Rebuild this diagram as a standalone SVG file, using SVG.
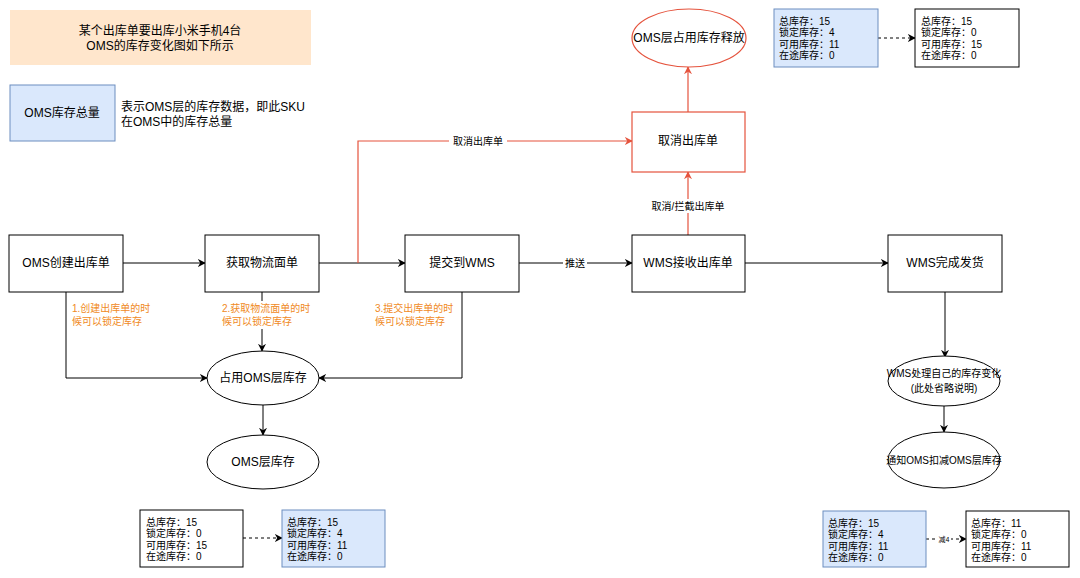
<svg xmlns="http://www.w3.org/2000/svg" width="1080" height="578" viewBox="0 0 1080 578">
<defs>
<style>
text{font-family:"Liberation Sans","Noto Sans CJK SC",sans-serif;fill:#000;}
.n{font-size:12px;text-anchor:middle;dominant-baseline:central;}
.s{font-size:10px;}
.o{font-size:10px;fill:#f08a24;}
.box{fill:#fff;stroke:#000;stroke-width:1;}
.blue{fill:#dae8fc;stroke:#6c8ebf;stroke-width:1;}
.red{fill:#fff;stroke:#e5533d;stroke-width:1.2;}
.ln{fill:none;stroke:#000;stroke-width:1;marker-end:url(#a);}
.rl{fill:none;stroke:#e5533d;stroke-width:1.2;marker-end:url(#ar);}
.dl{fill:none;stroke:#000;stroke-width:1;stroke-dasharray:3 3;marker-end:url(#a);}
</style>
<marker id="a" viewBox="0 0 10 10" refX="9" refY="5" markerWidth="8" markerHeight="8" orient="auto" markerUnits="userSpaceOnUse"><path d="M0,0 L10,5 L0,10 L3,5 z" fill="#000"/></marker>
<marker id="ar" viewBox="0 0 10 10" refX="9" refY="5" markerWidth="8" markerHeight="8" orient="auto" markerUnits="userSpaceOnUse"><path d="M0,0 L10,5 L0,10 L3,5 z" fill="#e5533d"/></marker>
</defs>

<g id="connectors">
<path class="ln" d="M123,263 L205,263"/>
<path class="ln" d="M319,263 L405,263"/>
<path class="ln" d="M519,263 L632,263"/>
<path class="ln" d="M745,263 L888,263"/>
<path class="rl" d="M358,263 L358,141 L632,141"/>
<path class="rl" d="M688,235 L688,172"/>
<path class="rl" d="M688,112 L688,67"/>
<path class="ln" d="M66,291 L66,378 L207,378"/>
<path class="ln" d="M262,291 L262,351"/>
<path class="ln" d="M462,291 L462,378 L319,378"/>
<path class="ln" d="M263,405 L263,435"/>
<path class="ln" d="M945,292 L945,357"/>
<path class="ln" d="M944,406 L944,432"/>
<path class="dl" d="M878,38 L915,38"/>
<path class="dl" d="M243,538 L282,538"/>
<path class="dl" d="M926,539 L966,539"/>
<rect x="449" y="134" width="58" height="14" fill="#fff"/>
<text class="n" x="478" y="141" style="font-size:10px">取消出库单</text>
<rect x="648" y="199" width="80" height="14" fill="#fff"/>
<text class="n" x="688" y="206" style="font-size:10px">取消/拦截出库单</text>
<rect x="563" y="256" width="24" height="14" fill="#fff"/>
<text class="n" x="575" y="263" style="font-size:10px">推送</text>
<rect x="937" y="534" width="14" height="10" fill="#fff"/>
<text class="n" x="944" y="539" style="font-size:7px">减4</text>
</g>

<g id="header"><rect x="10" y="10" width="301" height="55" fill="#ffe6cc"/>
<text class="n" x="160" y="31">某个出库单要出库小米手机4台</text>
<text class="n" x="160" y="46">OMS的库存变化图如下所示</text></g>

<g id="legend"><rect class="blue" x="10" y="85" width="105" height="56"/>
<text class="n" x="62" y="113">OMS库存总量</text></g>
<g id="legend-desc"><text x="121" y="111" style="font-size:12px">表示OMS层的库存数据，即此SKU</text>
<text x="121" y="126" style="font-size:12px">在OMS中的库存总量</text></g>

<g id="n1"><rect class="box" x="9" y="235" width="114" height="57"/><text class="n" x="66" y="263">OMS创建出库单</text></g>
<g id="n2"><rect class="box" x="205" y="235" width="114" height="57"/><text class="n" x="262" y="263">获取物流面单</text></g>
<g id="n3"><rect class="box" x="405" y="235" width="114" height="57"/><text class="n" x="462" y="263">提交到WMS</text></g>
<g id="n4"><rect class="box" x="632" y="235" width="113" height="57"/><text class="n" x="688" y="263">WMS接收出库单</text></g>
<g id="n5"><rect class="box" x="888" y="235" width="114" height="57"/><text class="n" x="945" y="263">WMS完成发货</text></g>
<g id="n6"><rect class="red" x="632" y="112" width="113" height="60"/><text class="n" x="688" y="141">取消出库单</text></g>
<g id="n7"><ellipse class="red" cx="689" cy="38" rx="57" ry="29"/><text class="n" x="689" y="38">OMS层占用库存释放</text></g>

<g id="l1"><text class="o" x="72" y="312">1.创建出库单的时</text><text class="o" x="72" y="325">候可以锁定库存</text></g>
<g id="l2"><rect x="220" y="301" width="86" height="28" fill="#fff"/><text class="o" x="222" y="312">2.获取物流面单的时</text><text class="o" x="222" y="325">候可以锁定库存</text></g>
<g id="l3"><text class="o" x="375" y="312">3.提交出库单的时</text><text class="o" x="375" y="325">候可以锁定库存</text></g>

<g id="e1"><ellipse class="box" cx="263" cy="378" rx="56" ry="27"/><text class="n" x="263" y="378">占用OMS层库存</text></g>
<g id="e2"><ellipse class="box" cx="263" cy="462" rx="56" ry="27"/><text class="n" x="263" y="462">OMS层库存</text></g>
<g id="e3"><ellipse class="box" cx="944" cy="381" rx="56" ry="25"/><text class="n" x="944" y="373" style="font-size:10px">WMS处理自己的库存变化</text><text class="n" x="944" y="388" style="font-size:10px">(此处省略说明)</text></g>
<g id="e4"><ellipse class="box" cx="944" cy="460" rx="56" ry="28"/><text class="n" x="944" y="460" style="font-size:10px">通知OMS扣减OMS层库存</text></g>

<g id="s1"><rect class="blue" x="774" y="9" width="104" height="58"/>
<text class="s" x="779" y="25">总库存：15</text><text class="s" x="779" y="36">锁定库存：4</text><text class="s" x="779" y="48">可用库存：11</text><text class="s" x="779" y="59">在途库存：0</text></g>
<g id="s2"><rect class="box" x="915" y="9" width="104" height="58"/>
<text class="s" x="921" y="25">总库存：15</text><text class="s" x="921" y="36">锁定库存：0</text><text class="s" x="921" y="48">可用库存：15</text><text class="s" x="921" y="59">在途库存：0</text></g>
<g id="s3"><rect class="box" x="140" y="510" width="103" height="57"/>
<text class="s" x="146" y="526">总库存：15</text><text class="s" x="146" y="537">锁定库存：0</text><text class="s" x="146" y="549">可用库存：15</text><text class="s" x="146" y="560">在途库存：0</text></g>
<g id="s4"><rect class="blue" x="282" y="510" width="103" height="57"/>
<text class="s" x="287" y="526">总库存：15</text><text class="s" x="287" y="537">锁定库存：4</text><text class="s" x="287" y="549">可用库存：11</text><text class="s" x="287" y="560">在途库存：0</text></g>
<g id="s5"><rect class="blue" x="823" y="511" width="103" height="56"/>
<text class="s" x="828" y="527">总库存：15</text><text class="s" x="828" y="538">锁定库存：4</text><text class="s" x="828" y="550">可用库存：11</text><text class="s" x="828" y="561">在途库存：0</text></g>
<g id="s6"><rect class="box" x="966" y="511" width="103" height="56"/>
<text class="s" x="971" y="527">总库存：11</text><text class="s" x="971" y="538">锁定库存：0</text><text class="s" x="971" y="550">可用库存：11</text><text class="s" x="971" y="561">在途库存：0</text></g>
</svg>
